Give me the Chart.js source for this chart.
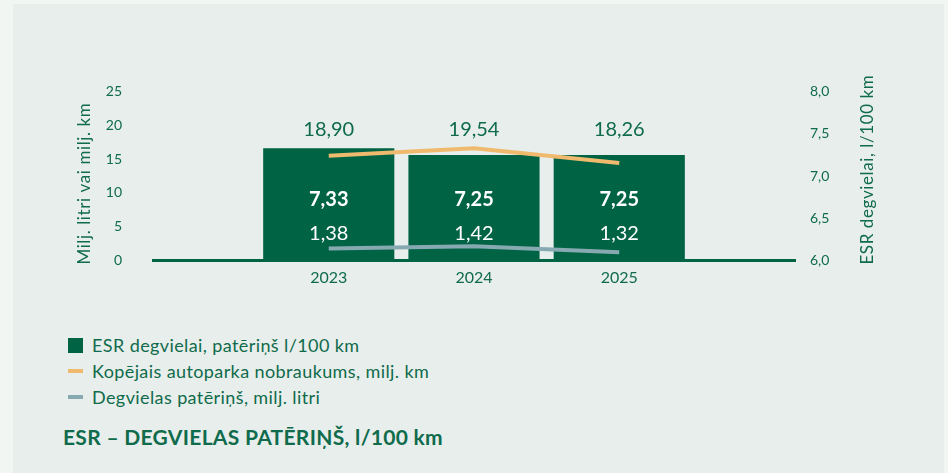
<!DOCTYPE html>
<html>
<head>
<meta charset="utf-8">
<script src="https://cdn.jsdelivr.net/npm/chart.js@4"></script>
<style>
  body { margin: 0; background: #f2f6f3; font-family: Lato, sans-serif; color: #0f6b4b; }
  #panel { position: absolute; left: 13px; top: 4px; width: 931px; height: 469px; background: #e8eeec; }
  #wrap { position: absolute; left: 0; top: 0; width: 948px; height: 300px; }
  #legend { position: absolute; left: 68px; top: 332px; font-size: 18px; letter-spacing: 0.4px; }
  .item { height: 26px; display: flex; align-items: center; }
  .sw { width: 15px; margin-right: 9px; }
  #title { position: absolute; left: 63px; top: 424px; font-size: 21px; font-weight: bold; letter-spacing: 0.3px; }
</style>
</head>
<body>
<div id="panel"></div>
<div id="wrap"><canvas id="esrChart"></canvas></div>
<div id="legend">
  <div class="item"><span class="sw" style="height:15px;background:#006444"></span>ESR degvielai, patēriņš l/100 km</div>
  <div class="item"><span class="sw" style="height:4px;background:#f0ba6e"></span>Kopējais autoparka nobraukums, milj. km</div>
  <div class="item"><span class="sw" style="height:4px;background:#87a9b2"></span>Degvielas patēriņš, milj. litri</div>
</div>
<div id="title">ESR – DEGVIELAS PATĒRIŅŠ, l/100 km</div>
<script>
const years = [2023, 2024, 2025];
const esrPer100 = [7.33, 7.25, 7.25];   // l/100 km (bars, right axis)
const mileage = [18.90, 19.54, 18.26];  // milj. km (orange line)
const fuelUse = [1.38, 1.42, 1.32];     // milj. litri (blue line)
const leftTicks = [0, 5, 10, 15, 20, 25];
const rightTicks = [6.0, 6.5, 7.0, 7.5, 8.0];

const green = '#006444';
const textColor = '#0f6b4b';
const comma = (v, d) => v.toFixed(d).replace('.', ',');

Chart.defaults.font.family = 'Lato, sans-serif';
Chart.defaults.color = textColor;

function sideTitle(ctx, text, x, y) {
  ctx.save();
  ctx.translate(x, y);
  ctx.rotate(-Math.PI / 2);
  ctx.font = '17px Lato';
  ctx.letterSpacing = '0.6px';
  ctx.fillStyle = textColor;
  ctx.textAlign = 'left';
  ctx.textBaseline = 'middle';
  ctx.fillText(text, 0, 0);
  ctx.restore();
}

// value labels + axis titles (both read bottom to top)
const extras = {
  id: 'extras',
  afterDatasetsDraw(chart) {
    const { ctx, chartArea } = chart;
    const bars = chart.getDatasetMeta(0).data;
    ctx.save();
    ctx.textAlign = 'center';
    ctx.textBaseline = 'middle';
    bars.forEach((bar, i) => {
      ctx.font = '20px Lato';
      ctx.fillStyle = textColor;
      ctx.fillText(comma(mileage[i], 2), bar.x, chartArea.top + 38.5);
      ctx.fillStyle = '#ffffff';
      ctx.font = 'bold 20px Lato';
      ctx.fillText(comma(esrPer100[i], 2), bar.x, chartArea.top + 108.5);
      ctx.font = '20px Lato';
      ctx.fillText(comma(fuelUse[i], 2), bar.x, chartArea.top + 142);
    });
    ctx.restore();
  },
  afterDraw(chart) {
    const { ctx, chartArea } = chart;
    sideTitle(ctx, 'Milj. litri vai milj. km', chartArea.left - 68, chartArea.bottom + 4);
    sideTitle(ctx, 'ESR degvielai, l/100 km', chartArea.right + 73, chartArea.bottom + 4);
  }
};

new Chart(document.getElementById('esrChart'), {
  data: {
    labels: years,
    datasets: [
      {
        type: 'bar',
        label: 'ESR degvielai, patēriņš l/100 km',
        data: esrPer100,
        yAxisID: 'yR',
        backgroundColor: green,
        categoryPercentage: 1,
        barPercentage: 0.903,
        order: 3
      },
      {
        type: 'line',
        label: 'Kopējais autoparka nobraukums, milj. km',
        data: mileage,
        yAxisID: 'yKm',
        borderColor: '#f0ba6e',
        borderWidth: 4,
        pointRadius: 0,
        tension: 0,
        order: 1
      },
      {
        type: 'line',
        label: 'Degvielas patēriņš, milj. litri',
        data: fuelUse,
        yAxisID: 'yLit',
        borderColor: '#87a9b2',
        borderWidth: 4,
        pointRadius: 0,
        tension: 0,
        order: 2
      }
    ]
  },
  options: {
    responsive: true,
    maintainAspectRatio: false,
    animation: false,
    layout: { padding: { left: 70, right: 93, top: 91.5, bottom: 8.5 } },
    plugins: { legend: { display: false }, tooltip: { enabled: false } },
    scales: {
      x: {
        type: 'linear',
        offset: false,
        min: 2021.79,
        max: 2026.21,
        afterBuildTicks: s => { s.ticks = years.map(v => ({ value: v })); },
        ticks: { callback: v => String(v), padding: 8, font: { size: 16 }, maxRotation: 0 },
        grid: { display: false, drawTicks: false },
        border: { color: green, width: 3 },
        afterFit: s => { s.height = 30; }
      },
      y: {
        position: 'left',
        min: 0,
        max: 25,
        afterBuildTicks: s => { s.ticks = leftTicks.map(v => ({ value: v })); },
        ticks: { padding: 31, font: { size: 14 } },
        grid: { display: false, drawTicks: false },
        border: { display: false },
        afterFit: s => { s.width = 83; }
      },
      yR: {
        position: 'right',
        min: 6,
        max: 8,
        afterBuildTicks: s => { s.ticks = rightTicks.map(v => ({ value: v })); },
        ticks: { padding: 15, font: { size: 14 }, callback: v => comma(v, 1) },
        grid: { display: false, drawTicks: false },
        border: { display: false },
        afterFit: s => { s.width = 60; }
      },
      yKm: { display: false, min: 9.9, max: 24.4 },
      yLit: { display: false, min: 1.18, max: 4.0 }
    }
  },
  plugins: [extras]
});
</script>
</body>
</html>
